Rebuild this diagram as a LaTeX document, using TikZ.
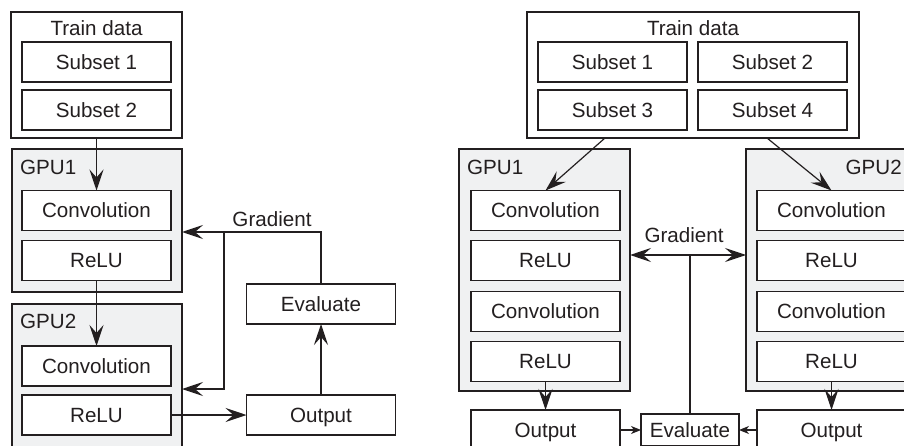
\documentclass[tikz,border=0pt]{standalone}
\usepackage{fontspec}
\setmainfont{Liberation Sans}
\usetikzlibrary{positioning,arrows.meta}
\definecolor{linec}{RGB}{35,31,32}
\definecolor{gpufill}{RGB}{240,241,242}
\tikzset{
	blk/.style={draw=linec, line width=1.3pt, fill=white, text=linec, minimum width=149pt, minimum height=40pt, text height=14.75pt, text depth=0pt, inner sep=0pt, outer sep=0pt},
	frame/.style={draw=linec, line width=1.3pt, fill=white, inner sep=0pt, outer sep=0pt},
	gpubox/.style={frame, fill=gpufill, minimum width=171pt},
	lbl/.style={text=linec, text height=14.75pt, text depth=0pt, inner sep=0pt},
	ln/.style={draw=linec, line width=1.2pt},
	arr/.style={ln, -{Stealth[length=21pt,width=14pt,inset=8pt]}},
	arrs/.style={ln, -{Stealth[length=10pt,width=8pt,inset=3pt]}},
}

\begin{document}
\begin{tikzpicture}[x=1pt, y=1pt, font=\fontsize{20.6}{24}\selectfont]
	\useasboundingbox (0,0) rectangle (904,-446);
	\clip (0,0) rectangle (904,-446);

	\node[frame, minimum width=171pt, minimum height=126pt] (trainL) at (96.5,-75) {};
	\node[lbl] (trainLt) at ([yshift=-16pt]trainL.north) {Train data};
	\node[blk] (s1L) at (96.5,-62) {Subset 1};
	\node[blk, below=8pt of s1L] (s2L) {Subset 2};
	\node[gpubox, minimum width=170pt, minimum height=143pt] (g1L) at (97,-220.5) {};
	\node[lbl, anchor=north west] (g1Lt) at ([shift={(8pt,-11pt)}]g1L.north west) {GPU1};
	\node[blk] (c1L) at (96.5,-210.5) {Convolution};
	\node[blk, below=10pt of c1L] (r1L) {ReLU};
	\node[gpubox, minimum width=170pt, minimum height=143pt] (g2L) at (97,-375.5) {};
	\node[lbl, anchor=north west] (g2Lt) at ([shift={(8pt,-10pt)}]g2L.north west) {GPU2};
	\node[blk] (c2L) at (96.5,-366) {Convolution};
	\node[blk, below=9pt of c2L] (r2L) {ReLU};
	\node[blk] (eL) at (321,-304) {Evaluate};
	\node[blk] (oL) at (321,-415) {Output};
	\node[lbl] (gradLt) at (272,-219) {Gradient};
	\coordinate (gL) at ([yshift=52pt]eL.north);
	\coordinate (bL) at (224,-232);
	\coordinate (bL2) at (224,-389);

	\draw[arr] (trainL.south) -- (c1L.north);
	\draw[arr] (r1L.south) -- (c2L.north);
	\draw[arr] (r2L.east) -- (oL.west);
	\draw[arr] (oL.north) -- (eL.south);
	\draw[arr] (eL.north) -- (gL) -- (gL -| g1L.east);
	\draw[arr] (bL) -- (bL2) -- (bL2 -| g2L.east);

	\node[frame, minimum width=332pt, minimum height=126pt] (trainR) at (693,-75) {};
	\node[lbl] (trainRt) at ([yshift=-16pt]trainR.north) {Train data};
	\node[blk] (s1R) at (612.5,-62) {Subset 1};
	\node[blk, right=11pt of s1R] (s2R) {Subset 2};
	\node[blk, below=8pt of s1R] (s3R) {Subset 3};
	\node[blk, below=8pt of s2R] (s4R) {Subset 4};
	\node[gpubox, minimum height=242pt] (g1R) at (544.5,-270) {};
	\node[lbl, anchor=north west] (g1Rt) at ([shift={(8pt,-11pt)}]g1R.north west) {GPU1};
	\node[blk] (c1R) at (545.5,-210.5) {Convolution};
	\node[blk, below=10pt of c1R] (r1R) {ReLU};
	\node[blk, below=11pt of r1R] (c2R) {Convolution};
	\node[blk, below=10pt of c2R] (r2R) {ReLU};
	\node[blk] (o1R) at (545.5,-430) {Output};
	\node[gpubox, minimum height=242pt] (g2R) at (831.5,-270) {};
	\node[lbl, anchor=north east] (g2Rt) at ([shift={(-15pt,-11pt)}]g2R.north east) {GPU2};
	\node[blk] (c3R) at (831.5,-210.5) {Convolution};
	\node[blk, below=10pt of c3R] (r3R) {ReLU};
	\node[blk, below=11pt of r3R] (c4R) {Convolution};
	\node[blk, below=10pt of c4R] (r4R) {ReLU};
	\node[blk] (o2R) at (831.5,-430) {Output};
	\node[blk, minimum width=98pt, minimum height=32pt] (eR) at (690,-430) {Evaluate};
	\node[lbl] (gradRt) at (684,-235) {Gradient};
	\coordinate (gR) at ([yshift=159pt]eR.north);

	\draw[arr] ([xshift=78pt]trainR.south west) -- (c1R.north);
	\draw[arr] ([xshift=-92pt]trainR.south east) -- (c3R.north);
	\draw[ln] (eR.north) -- (gR);
	\draw[arr] (gR) -- (gR -| g1R.east);
	\draw[arr] (gR) -- (gR -| g2R.west);
	\draw[arr] (r2R.south) -- (o1R.north);
	\draw[arr] (r4R.south) -- (o2R.north);
	\draw[arrs] (o1R.east) -- (eR.west);
	\draw[arrs] (o2R.west) -- (eR.east);
\end{tikzpicture}
\end{document}
